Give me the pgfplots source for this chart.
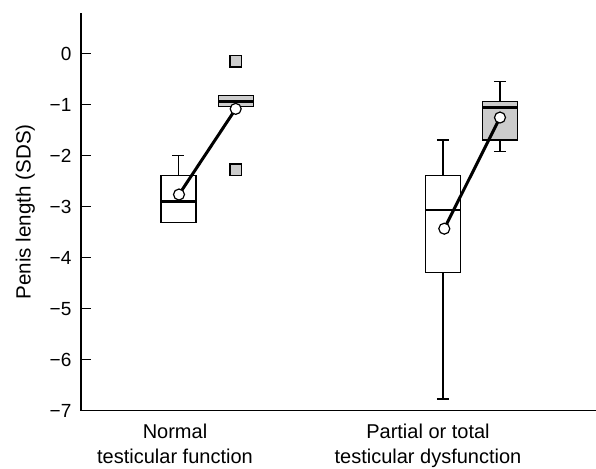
\documentclass[border=0pt]{standalone}
\usepackage{fontspec}
\setmainfont{Liberation Sans}
\usepackage{pgfplots}
\pgfplotsset{compat=1.18}

\definecolor{boxgrey}{RGB}{204,204,204}

\begin{document}
\begin{tikzpicture}
  % x in units of 100 reference pixels from the y axis, 1px = 0.5pt
  \begin{axis}[
      scale only axis,
      width=257.5pt,
      height=198.85pt,
      xmin=0, xmax=5.15,
      ymin=-7, ymax=0.8,
      axis x line*=bottom,
      axis y line*=left,
      axis line style={-, line width=0.6pt},
      ytick={-7,-6,-5,-4,-3,-2,-1,0},
      yticklabels={−7,−6,−5,−4,−3,−2,−1,0},
      ytick pos=left,
      tick align=inside,
      major tick length=5pt,
      tick style={line width=0.6pt, black},
      yticklabel style={font=\fontsize{9.5}{11}\selectfont, xshift=-1.3pt},
      xtick={0.94,3.47},
      xticklabels={Normal\\testicular function, Partial or total\\testicular dysfunction},
      xticklabel style={align=center, font=\fontsize{10}{12.5}\selectfont, yshift=-3pt},
      major x tick style={draw=none},
      ylabel={Penis length (SDS)},
      ylabel style={at={(axis description cs:-0.108,0.5)}, anchor=center,
                    font=\fontsize{10.3}{12}\selectfont},
      clip=false,
      whisk/.style={black, line width=0.6pt},
      box/.style={draw=black, line width=0.6pt},
      med/.style={black, line width=1.25pt},
    ]
    % ---- whiskers and caps
    \addplot[whisk] coordinates {(0.975,-2.39) (0.975,-2.0)};
    \addplot[whisk] coordinates {(0.915,-2.0) (1.035,-2.0)};
    \addplot[whisk] coordinates {(3.62,-2.39) (3.62,-1.69)};
    \addplot[whisk] coordinates {(3.56,-1.69) (3.68,-1.69)};
    \addplot[whisk] coordinates {(3.62,-4.29) (3.62,-6.77)};
    \addplot[whisk] coordinates {(3.56,-6.77) (3.68,-6.77)};
    \addplot[whisk] coordinates {(4.19,-0.93) (4.19,-0.55)};
    \addplot[whisk] coordinates {(4.13,-0.55) (4.25,-0.55)};
    \addplot[whisk] coordinates {(4.19,-1.69) (4.19,-1.91)};
    \addplot[whisk] coordinates {(4.13,-1.91) (4.25,-1.91)};
    % ---- boxes (lower to upper quartile)
    \addplot[box, fill=white] coordinates
      {(0.80,-3.31) (1.15,-3.31) (1.15,-2.39) (0.80,-2.39) (0.80,-3.31)} -- cycle;
    \addplot[box, fill=boxgrey] coordinates
      {(1.372,-1.03) (1.722,-1.03) (1.722,-0.81) (1.372,-0.81) (1.372,-1.03)} -- cycle;
    \addplot[box, fill=white] coordinates
      {(3.445,-4.29) (3.795,-4.29) (3.795,-2.39) (3.445,-2.39) (3.445,-4.29)} -- cycle;
    \addplot[box, fill=boxgrey] coordinates
      {(4.015,-1.69) (4.365,-1.69) (4.365,-0.93) (4.015,-0.93) (4.015,-1.69)} -- cycle;
    % ---- medians
    \addplot[med] coordinates {(0.80,-2.90) (1.15,-2.90)};
    \addplot[med] coordinates {(1.372,-0.94) (1.722,-0.94)};
    \addplot[med] coordinates {(3.445,-3.06) (3.795,-3.06)};
    \addplot[med] coordinates {(4.015,-1.05) (4.365,-1.05)};
    % ---- outliers
    \addplot[only marks, mark=square*, mark size=2.8pt,
      mark options={fill=boxgrey, draw=black, line width=0.6pt}]
      coordinates {(1.547,-0.15) (1.547,-2.27)};
    % ---- means
    \addplot[black, line width=1.5pt, mark=*, mark size=2.75pt,
      mark options={fill=white, line width=0.6pt}]
      coordinates {(0.98,-2.76) (1.547,-1.08)};
    \addplot[black, line width=1.5pt, mark=*, mark size=2.75pt,
      mark options={fill=white, line width=0.6pt}]
      coordinates {(3.633,-3.43) (4.19,-1.25)};
  \end{axis}
  \pgfresetboundingbox
  \path[use as bounding box] (-40.5pt,-28.65pt) rectangle (257.5pt,205.35pt);
\end{tikzpicture}
\end{document}
